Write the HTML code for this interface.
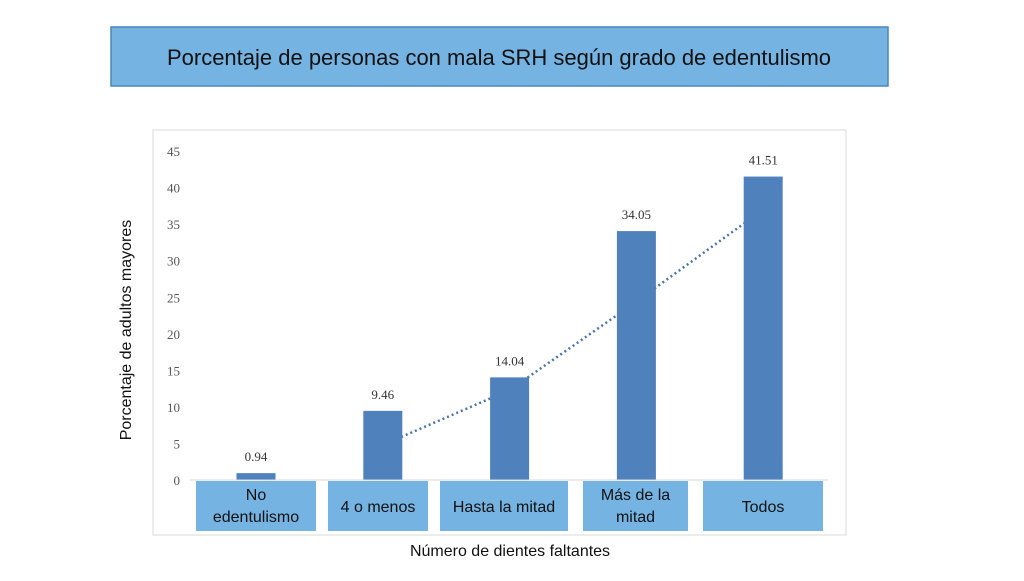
<!DOCTYPE html>
<html><head><meta charset="utf-8"><style>
body{margin:0;width:1024px;height:576px;background:#fff;overflow:hidden;font-family:"Liberation Sans",sans-serif}
</style></head><body>
<svg width="1024" height="576" xmlns="http://www.w3.org/2000/svg">
<rect x="111" y="27" width="777" height="59" fill="#74b3e2" stroke="#4a86b8" stroke-width="1.5"/>
<text x="499" y="65" text-anchor="middle" font-size="22" fill="#111">Porcentaje de personas con mala SRH según grado de edentulismo</text>
<rect x="153" y="130" width="693" height="405" fill="none" stroke="#d9d9d9"/>
<g id="yt"></g>
<g id="trend"></g>
<g id="bars"></g>
<line x1="190" y1="480" x2="828" y2="480" stroke="#d9d9d9"/>
<g id="cats"></g>
<text transform="translate(131,330) rotate(-90)" text-anchor="middle" font-size="16" fill="#111">Porcentaje de adultos mayores</text>
<text x="510" y="556" text-anchor="middle" font-size="16" fill="#111">Número de dientes faltantes</text>
</svg>
<script>
const categories=[["No","edentulismo"],["4 o menos"],["Hasta la mitad"],["Más de la","mitad"],["Todos"]];
const values=[0.94,9.46,14.04,34.05,41.51];
const labels=["0.94","9.46","14.04","34.05","41.51"];
const yTicks=[0,5,10,15,20,25,30,35,40,45];
const trendValues=[null,4.8,12.3,24.4,37];
const NS="http://www.w3.org/2000/svg";
const y=v=>480-v*7.31;
const x=i=>256+i*126.8;
const boxes=[[196,120],[328,100],[440,128],[583,105],[703,120]];
function mk(t,a,p){const e=document.createElementNS(NS,t);for(const k in a)e.setAttribute(k,a[k]);p.appendChild(e);return e;}
const yt=document.getElementById('yt');
yTicks.forEach(v=>{const t=mk('text',{x:180,y:y(v)+5,'text-anchor':'end','font-size':13,fill:'#555','font-family':'Liberation Serif, serif'},yt);


t.textContent=v;});
const tr=document.getElementById('trend');
const pts=trendValues.map((v,i)=>v==null?null:x(i)+','+y(v)).filter(p=>p).join(' ');
const pl=mk('polyline',{points:pts,fill:'none',stroke:'#4a74aa','stroke-width':2.5,'stroke-dasharray':'2 3'},tr);


const bg=document.getElementById('bars');
values.forEach((v,i)=>{const r=mk('rect',{x:x(i)-19.5,y:y(v),width:39,height:480-y(v),fill:'#4f81bd'},bg);


const t=mk('text',{x:x(i),y:y(v)-12,'text-anchor':'middle','font-size':13,fill:'#333','font-family':'Liberation Serif, serif'},bg);


t.textContent=labels[i];});
const cg=document.getElementById('cats');
categories.forEach((c,i)=>{const b=boxes[i];
const r=mk('rect',{x:b[0],y:481,width:b[1],height:50,fill:'#74b3e2'},cg);


const cx=b[0]+b[1]/2;
c.forEach((line,j)=>{const t=mk('text',{x:cx,y:(c.length==1?512:500+j*22),'text-anchor':'middle','font-size':16,fill:'#111'},cg);


t.textContent=line;});});
</script>
</body></html>
